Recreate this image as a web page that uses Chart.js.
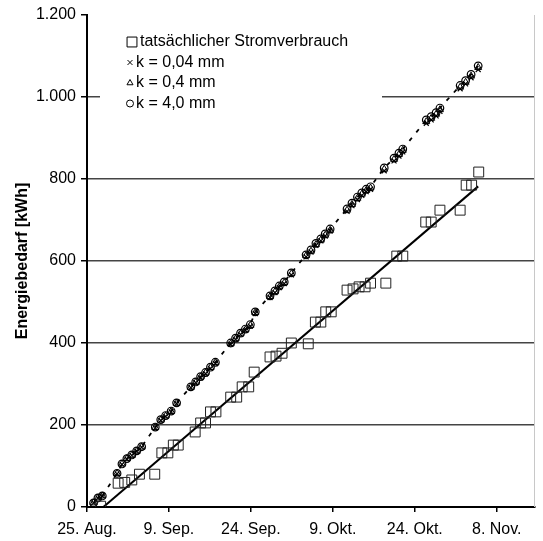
<!DOCTYPE html>
<html>
<head>
<meta charset="utf-8">
<script src="https://cdn.jsdelivr.net/npm/chart.js@4"></script>
<style>
  body { margin: 0; background: #fff; }
</style>
</head>
<body>
<canvas id="myChart" width="543" height="541"></canvas>
<script>
// x values are days counted from 25. Aug.
var tickDays = [0, 15, 30, 45, 60, 75];
var xTickLabels = ["25. Aug.", "9. Sep.", "24. Sep.", "9. Okt.", "24. Okt.", "8. Nov."];
var yTicks = [0, 200, 400, 600, 800, 1000, 1200];
var yTickLabels = ["0", "200", "400", "600", "800", "1.000", "1.200"];

// measured consumption (squares)
var actualDays = [2.5, 5.7, 6.9, 8.2, 9.6, 12.4, 13.7, 14.8, 15.8, 16.7, 19.8, 20.8, 21.7, 22.6, 23.6,
  26.3, 27.4, 28.4, 29.6, 30.6, 33.5, 34.6, 35.7, 37.4, 40.5, 41.8, 42.8, 43.7, 44.7,
  47.6, 48.7, 49.8, 50.9, 51.9, 54.7, 56.7, 57.8, 62.0, 63.0, 64.6, 68.3, 69.4, 70.4, 71.7];
var actualValues = [2, 58, 60, 66, 80, 80, 132, 132, 151, 151, 183, 205, 205, 232, 232,
  268, 268, 293, 293, 329, 366, 368, 375, 400, 398, 451, 451, 476, 476,
  529, 532, 537, 537, 546, 546, 612, 612, 695, 695, 724, 724, 785, 785, 817];

// trend line of the measured values
var trendDays = [3, 71.6];
var trendValues = [0, 782];

// simulated consumption for three pipe roughness values
var modelDays = [1.2, 2.0, 2.8, 5.5, 6.4, 7.3, 8.2, 9.1, 10.0, 12.5, 13.5, 14.4, 15.4, 16.4,
  19.0, 19.9, 20.8, 21.7, 22.6, 23.5, 26.3, 27.2, 28.1, 29.0, 29.9, 30.8, 33.5, 34.4, 35.2, 36.1, 37.4,
  40.1, 41.0, 41.9, 42.8, 43.6, 44.5, 47.6, 48.5, 49.5, 50.3, 51.1, 51.9, 54.4, 56.2, 57.1, 57.8,
  62.1, 63.0, 63.9, 64.6, 68.3, 69.3, 70.3, 71.6];
var k004Values = [10, 22, 27, 81, 104, 117, 126, 136, 146, 193, 211, 221, 232, 252,
  291, 303, 315, 325, 338, 350, 397, 409, 421, 431, 441, 472, 511, 523, 535, 545, 566,
  610, 622, 638, 649, 661, 673, 721, 735, 750, 760, 769, 775, 820, 844, 856, 866,
  936, 944, 954, 965, 1020, 1032, 1047, 1067];
var k04Values = [10, 22, 27, 82, 105, 118, 126, 136, 146, 194, 212, 222, 233, 253,
  292, 304, 317, 327, 340, 352, 398, 410, 422, 432, 443, 474, 513, 525, 537, 547, 569,
  613, 624, 640, 651, 663, 675, 724, 738, 753, 763, 772, 778, 824, 848, 860, 870,
  940, 948, 958, 969, 1024, 1036, 1051, 1072];
var k40Values = [10, 22, 27, 82, 105, 118, 127, 137, 147, 195, 213, 223, 234, 254,
  293, 305, 318, 328, 341, 353, 400, 412, 424, 434, 445, 476, 515, 527, 539, 549, 571,
  615, 627, 643, 654, 666, 678, 727, 741, 756, 766, 775, 781, 827, 851, 863, 873,
  944, 952, 962, 973, 1028, 1040, 1055, 1076];

var seriesLabels = ["tatsächlicher Stromverbrauch", "k = 0,04 mm", "k = 0,4 mm", "k = 4,0 mm"];

function toPoints(xs, ys) {
  return xs.map(function (x, i) { return { x: x, y: ys[i] }; });
}

var fontFamily = "'Liberation Sans', Arial, sans-serif";

// legend drawn inside the plot, on a white box that hides the 1.000 grid line
var legendBox = {
  id: 'legendBox',
  beforeDatasetsDraw: function (chart) {
    var ctx = chart.ctx;
    ctx.save();
    ctx.fillStyle = '#fff';
    ctx.fillRect(100, 30, 282, 84);
    ctx.font = '16px ' + fontFamily;
    ctx.textBaseline = 'middle';
    var rows = [42, 62.5, 83, 103.5];
    var markX = [132, 130, 130, 130];
    var textX = [140, 136, 136, 136];
    chart.data.datasets.slice(0, 4).forEach(function (ds, i) {
      ctx.strokeStyle = '#000';
      ctx.fillStyle = 'rgba(0,0,0,0)';
      ctx.lineWidth = 1;
      Chart.helpers.drawPoint(ctx, {
        pointStyle: ds.pointStyle,
        radius: i === 0 ? 7 : 3.5,
        rotation: 0,
        borderWidth: 1
      }, markX[i], rows[i]);
      ctx.fillStyle = '#000';
      ctx.fillText(ds.label, textX[i], rows[i]);
    });
    ctx.restore();
  },
  afterDraw: function (chart) {
    var ctx = chart.ctx, a = chart.chartArea;
    ctx.save();
    ctx.strokeStyle = '#c8c8c8';
    ctx.lineWidth = 1;
    ctx.beginPath();
    ctx.moveTo(a.right - 0.5, a.top);
    ctx.lineTo(a.right - 0.5, a.bottom);
    ctx.stroke();
    ctx.restore();
  }
};

var ctx = document.getElementById('myChart').getContext('2d');

var myChart = new Chart(ctx, {
  type: 'scatter',
  data: {
    datasets: [{
      label: seriesLabels[0],
      data: toPoints(actualDays, actualValues),
      pointStyle: 'rect',
      pointRadius: 7,
      pointBorderWidth: 1,
      borderColor: '#222',
      backgroundColor: 'rgba(0,0,0,0)'
    }, {
      label: seriesLabels[1],
      data: toPoints(modelDays, k004Values),
      pointStyle: 'crossRot',
      pointRadius: 3.5,
      pointBorderWidth: 1.2,
      borderColor: '#000',
      backgroundColor: 'rgba(0,0,0,0)'
    }, {
      label: seriesLabels[2],
      data: toPoints(modelDays, k04Values),
      pointStyle: 'triangle',
      pointRadius: 4,
      pointBorderWidth: 1,
      borderColor: '#000',
      backgroundColor: 'rgba(0,0,0,0)'
    }, {
      label: seriesLabels[3],
      data: toPoints(modelDays, k40Values),
      pointStyle: 'circle',
      pointRadius: 3.8,
      pointBorderWidth: 1.2,
      showLine: true,
      borderDash: [4, 7],
      borderWidth: 1.8,
      borderColor: '#000',
      backgroundColor: 'rgba(0,0,0,0)'
    }, {
      label: 'Trend',
      data: toPoints(trendDays, trendValues),
      showLine: true,
      pointRadius: 0,
      borderWidth: 2,
      borderColor: '#000'
    }]
  },
  options: {
    responsive: false,
    animation: false,
    layout: { padding: { top: 15, right: 0, bottom: 0, left: 0 } },
    plugins: {
      legend: { display: false },
      tooltip: { enabled: false }
    },
    scales: {
      x: {
        type: 'linear',
        min: 0,
        max: 82,
        afterBuildTicks: function (s) { s.ticks = tickDays.map(function (v) { return { value: v }; }); },
        afterFit: function (s) { s.height = 34; },
        ticks: {
          callback: function (v, i) { return xTickLabels[i]; },
          autoSkip: false,
          maxRotation: 0,
          padding: 8,
          color: '#000',
          font: { family: fontFamily, size: 16 }
        },
        grid: { drawOnChartArea: false, tickLength: 5, tickColor: '#000', lineWidth: 1.5 },
        border: { color: '#000', width: 2 }
      },
      y: {
        min: 0,
        max: 1200,
        afterBuildTicks: function (s) { s.ticks = yTicks.map(function (v) { return { value: v }; }); },
        afterFit: function (s) { s.width = 87; },
        ticks: {
          callback: function (v, i) { return yTickLabels[i]; },
          padding: 5,
          color: '#000',
          font: { family: fontFamily, size: 16 }
        },
        grid: {
          color: function (c) {
            var v = c.tick ? c.tick.value : null;
            return (v === 0 || v === 1200) ? 'rgba(0,0,0,0)' : '#444';
          },
          lineWidth: 1.5,
          tickLength: 6,
          tickColor: '#000'
        },
        border: { color: '#000', width: 2 },
        title: {
          display: true,
          text: 'Energiebedarf [kWh]',
          color: '#000',
          font: { family: fontFamily, size: 16, weight: 'bold' },
          padding: { top: 13, bottom: 0 }
        }
      }
    }
  },
  plugins: [legendBox]
});
</script>
</body>
</html>
